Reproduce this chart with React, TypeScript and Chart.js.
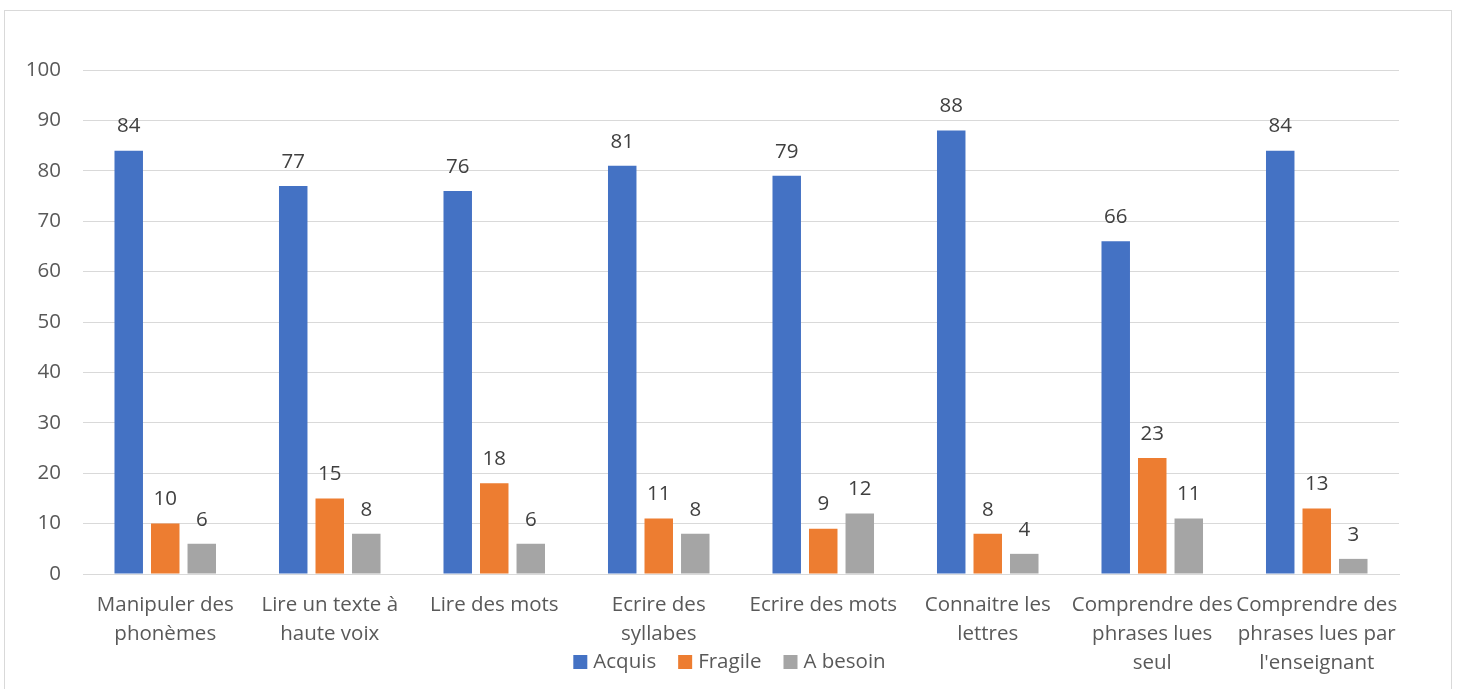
import { useEffect, useRef } from "react";
import { Chart, registerables } from "chart.js";

Chart.register(...registerables);

const categories: string[][] = [
  ["Manipuler des", "phonèmes"],
  ["Lire un texte à", "haute voix"],
  ["Lire des mots"],
  ["Ecrire des", "syllabes"],
  ["Ecrire des mots"],
  ["Connaitre les", "lettres"],
  ["Comprendre des", "phrases lues", "seul"],
  ["Comprendre des", "phrases lues par", "l'enseignant"],
];

const seriesNames = ["Acquis", "Fragile", "A besoin"];
const acquis = [84, 77, 76, 81, 79, 88, 66, 84];
const fragile = [10, 15, 18, 11, 9, 8, 23, 13];
const aBesoin = [6, 8, 6, 8, 12, 4, 11, 3];
const seriesColors = ["#4472C4", "#ED7D31", "#A5A5A5"];

const yMin = 0;
const yMax = 100;
const yStep = 10;

const FONT = "'Open Sans', 'Noto Sans', sans-serif";
const FONT_SIZE = 20.5;

const dataLabelPlugin = {
  id: "dataLabels",
  afterDatasetsDraw(chart: any) {
    const ctx = chart.ctx;
    ctx.save();
    ctx.font = `${FONT_SIZE}px ${FONT}`;
    ctx.fillStyle = "#404040";
    ctx.textAlign = "center";
    ctx.textBaseline = "middle";
    chart.data.datasets.forEach((ds: any, i: number) => {
      const meta = chart.getDatasetMeta(i);
      meta.data.forEach((el: any, j: number) => {
        ctx.fillText(String(ds.data[j]), el.x, el.y - 24);
      });
    });
    ctx.restore();
  },
};

const customLegendPlugin = {
  id: "customLegend",
  afterDraw(chart: any) {
    const ctx = chart.ctx;
    ctx.save();
    ctx.font = `${FONT_SIZE}px ${FONT}`;
    ctx.textBaseline = "middle";
    const box = 14;
    const gapText = 6;
    const gapItem = 22;
    const items = chart.data.datasets.map((ds: any) => ({
      label: ds.label,
      color: ds.backgroundColor,
      w: ctx.measureText(ds.label).width,
    }));
    const total = items.reduce((s: number, it: any) => s + box + gapText + it.w, 0) + gapItem * (items.length - 1);
    let x = chart.width / 2 - total / 2;
    const y = 662;
    items.forEach((it: any) => {
      ctx.fillStyle = it.color;
      ctx.fillRect(x, y - box / 2, box, box);
      x += box + gapText;
      ctx.fillStyle = "#595959";
      ctx.textAlign = "left";
      ctx.fillText(it.label, x, y);
      x += it.w + gapItem;
    });
    ctx.restore();
  },
};

export default function App() {
  const ref = useRef<HTMLCanvasElement | null>(null);

  useEffect(() => {
    if (!ref.current) return;
    const values = [acquis, fragile, aBesoin];
    const chart = new Chart(ref.current, {
      type: "bar",
      data: {
        labels: categories,
        datasets: seriesNames.map((name, i) => ({
          label: name,
          data: values[i],
          backgroundColor: seriesColors[i],
          categoryPercentage: 0.666,
          barPercentage: 0.78,
        })),
      },
      options: {
        animation: false,
        responsive: false,
        maintainAspectRatio: false,
        layout: { padding: { top: 70, right: 60, left: 0, bottom: 0 } },
        plugins: {
          legend: { display: false },
          tooltip: { enabled: false },
        },
        scales: {
          x: {
            grid: { display: false, drawTicks: false },
            border: { display: true, color: "#d9d9d9", width: 1 },
            ticks: {
              autoSkip: false,
              maxRotation: 0,
              minRotation: 0,
              padding: 17,
              color: "#595959",
              font: { family: FONT, size: FONT_SIZE, lineHeight: 1.41 },
            },
            afterFit(scale: any) {
              scale.height = 115;
            },
          },
          y: {
            min: yMin,
            max: yMax,
            grid: { color: "#d9d9d9", lineWidth: 1, drawTicks: false },
            border: { display: false },
            ticks: {
              stepSize: yStep,
              padding: 22,
              color: "#595959",
              font: { family: FONT, size: FONT_SIZE },
            },
            afterFit(scale: any) {
              scale.width = 83;
            },
          },
        },
      },
      plugins: [dataLabelPlugin, customLegendPlugin],
    });
    return () => chart.destroy();
  }, []);

  return (
    <div style={{ position: "absolute", left: 0, top: 0, width: 1459, height: 689, overflow: "hidden", background: "#fff" }}>
      <div
        style={{
          position: "absolute",
          left: 4,
          top: 10,
          width: 1448,
          height: 720,
          border: "1.5px solid #d9d9d9",
          boxSizing: "border-box",
        }}
      />
      <canvas ref={ref} width={1459} height={689} style={{ position: "absolute", left: 0, top: 0 }} />
    </div>
  );
}
